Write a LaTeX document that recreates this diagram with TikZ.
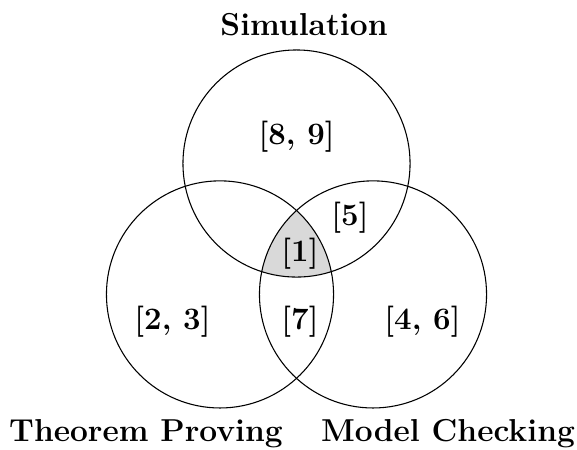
\documentclass[tikz,border=0pt]{standalone}
\begin{document}
\begin{tikzpicture}[x=0.0130719cm,y=-0.0130719cm,
  setcircle/.style={draw=black,line width=0.4pt},
  title/.style={font=\fontsize{11.8pt}{14pt}\selectfont\bfseries,inner sep=0pt,anchor=base},
  num/.style={font=\fontsize{11.6pt}{14pt}\selectfont\bfseries,inner sep=0pt}]
\useasboundingbox (0,0) rectangle (577,449);
\def\R{1.485cm}
\coordinate (cT) at (296.5,163.5);
\coordinate (cL) at (220,294.4);
\coordinate (cR) at (373,294.4);
\begin{scope}
  \clip (cT) circle [radius=\R];
  \clip (cL) circle [radius=\R];
  \fill[gray!30] (cR) circle [radius=\R];
\end{scope}
\draw[setcircle] (cT) circle [radius=\R];
\draw[setcircle] (cL) circle [radius=\R];
\draw[setcircle] (cR) circle [radius=\R];
\node[title] (sim) at (304,35) {Simulation};
\node[title] (tp) at (146,441) {Theorem Proving};
\node[title] (mc) at (448,441) {Model Checking};
\node[num] (n89) at (296.7,136.5) {[8, 9]};
\node[num] (n5) at (350,218) {[5]};
\node[num] (n1) at (300,254) {[1]};
\node[num] (n23) at (172.5,321.5) {[2, 3]};
\node[num] (n7) at (300,321.5) {[7]};
\node[num] (n46) at (422.5,321.5) {[4, 6]};
\end{tikzpicture}
\end{document}
